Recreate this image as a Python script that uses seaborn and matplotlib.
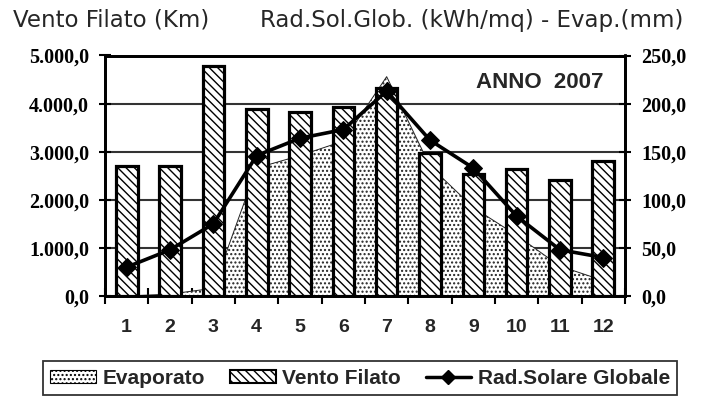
import numpy as np
import pandas as pd
import matplotlib
matplotlib.use("Agg")
import matplotlib.pyplot as plt
import seaborn as sns
from matplotlib.patches import Patch
from matplotlib.lines import Line2D

sns.set_theme(style="white")
plt.rcParams["hatch.linewidth"] = 1.0

# ---- data ----
months = ["1", "2", "3", "4", "5", "6", "7", "8", "9", "10", "11", "12"]
vento_filato = [2700, 2700, 4780, 3880, 3820, 3920, 4330, 2970, 2540, 2640, 2410, 2800]
rad_solare = [30, 48, 75, 146, 164, 173, 213, 162, 133, 83, 48, 40]
evaporato = [0, 2, 8, 133, 146, 161, 228, 135, 92, 63, 31, 16]

left_ticks = [0, 1000, 2000, 3000, 4000, 5000]
left_tick_labels = ["0,0", "1.000,0", "2.000,0", "3.000,0", "4.000,0", "5.000,0"]
right_ticks = [0, 50, 100, 150, 200, 250]
right_tick_labels = ["0,0", "50,0", "100,0", "150,0", "200,0", "250,0"]

title_left = "Vento Filato (Km)"
title_right = "Rad.Sol.Glob. (kWh/mq) - Evap.(mm)"
annotation = "ANNO  2007"
legend_labels = ["Evaporato", "Vento Filato", "Rad.Solare Globale"]

df = pd.DataFrame({"mese": months, "vento": vento_filato,
                   "rad": rad_solare, "evap": evaporato})
df["pos"] = np.arange(len(df))

W, H = 710, 401
fig = plt.figure(figsize=(W / 100, H / 100), dpi=100)
fig.patch.set_facecolor("white")
ax = fig.add_axes([105 / W, 105 / H, 520 / W, 240.5 / H])
ax_r = ax.twinx()

serif_bold = dict(family="Liberation Serif", weight="bold", size=14.5)
sans_bold = dict(family="Liberation Sans", weight="bold")

# bars (left axis)
sns.barplot(data=df, x="mese", y="vento", ax=ax, color="white",
            edgecolor="black", linewidth=2.3, width=0.5, hatch="\\\\\\\\",
            saturation=1, zorder=3)
for p in ax.patches:
    p.set_facecolor("white")
    p.set_hatch("\\\\\\\\")
    p.set_edgecolor("black")
    p.set_zorder(3)

# area (right-axis scale), drawn below bars
ax.fill_between(df["pos"], 0, df["evap"], transform=ax_r.transData,
                facecolor="white", edgecolor="#222222", hatch="....",
                linewidth=0.7, zorder=2)

ax.set_xlim(-0.5, len(months) - 0.5)
ax.set_ylim(0, 5000)
ax.set_yticks(left_ticks)
ax.set_yticklabels(left_tick_labels, fontdict=serif_bold)
ax.set_xlabel("")
ax.set_ylabel("")
ax.set_axisbelow(True)
ax.yaxis.grid(True, color="#333333", linewidth=1.5)
ax.xaxis.grid(False)
ax.tick_params(axis="y", which="major", direction="inout", length=9,
               width=1.5, pad=7, colors="black", left=True)
ax.set_xticks(df["pos"])
ax.set_xticklabels(months, fontdict=dict(sans_bold, size=14))
ax.tick_params(axis="x", which="major", length=0, pad=16.5)
ax.set_xticks(np.arange(-0.5, len(months)), minor=True)
ax.tick_params(axis="x", which="minor", direction="inout", length=11,
               width=1.5, bottom=True, colors="black")

# line (right axis)
ax_r.set_zorder(ax.get_zorder() + 1)
ax_r.patch.set_visible(False)
sns.lineplot(data=df, x="pos", y="rad", ax=ax_r, color="black",
             linewidth=2.6, marker="D", markersize=9,
             markeredgecolor="black", markerfacecolor="black", zorder=5)
ax_r.set_ylim(0, 250)
ax_r.set_xlim(-0.5, len(months) - 0.5)
ax_r.set_yticks(right_ticks)
ax_r.set_yticklabels(right_tick_labels, fontdict=serif_bold)
ax_r.set_ylabel("")
ax_r.set_xlabel("")
ax_r.grid(False)
ax_r.tick_params(axis="y", direction="inout", length=9, width=1.5, pad=7,
                 colors="black", right=True)
if ax_r.get_legend():
    ax_r.get_legend().remove()

for a in (ax, ax_r):
    for s in a.spines.values():
        s.set_color("black")
        s.set_linewidth(2.0)
        s.set_visible(True)

ax.text(0.958, 0.886, annotation, transform=ax.transAxes, ha="right",
        va="center", fontsize=16, **sans_bold)

fig.text(13 / W, 1 - 26.7 / H, title_left, ha="left", va="baseline",
         fontsize=16.5, family="DejaVu Sans")
fig.text(683 / W, 1 - 26.7 / H, title_right, ha="right", va="baseline",
         fontsize=16.5, family="DejaVu Sans")

handles = [
    Patch(facecolor="white", edgecolor="black", hatch="....", linewidth=0.8),
    Patch(facecolor="white", edgecolor="black", hatch="\\\\\\\\", linewidth=1.5),
    Line2D([0], [0], color="black", linewidth=2.5, marker="D", markersize=7),
]
leg = fig.legend(handles, legend_labels, loc="center",
                 bbox_to_anchor=(360 / W, 1 - 378 / H), ncol=3,
                 frameon=True, fancybox=False, edgecolor="black",
                 prop=dict(family="Liberation Sans", weight="bold", size=15),
                 handlelength=2.2, handleheight=0.6, handletextpad=0.3,
                 columnspacing=1.2, borderpad=0.35, borderaxespad=0)
leg.get_frame().set_linewidth(1.3)

fig.savefig("out.png", dpi=100, facecolor="white")
